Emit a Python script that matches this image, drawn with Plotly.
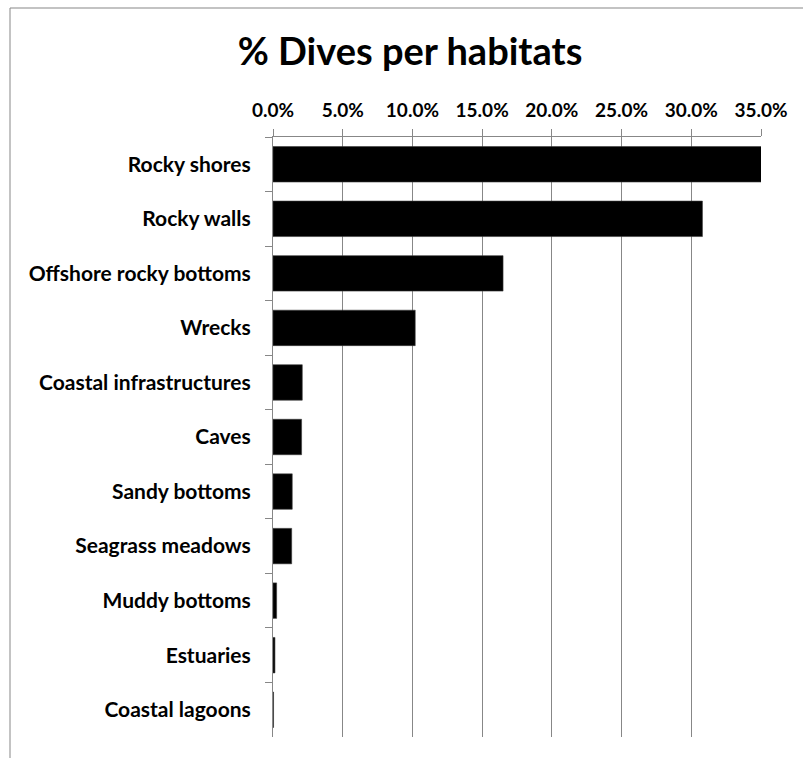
import plotly.graph_objects as go

# Share of dives recorded in each habitat type (fraction of all dives)
habitats = [
    "Rocky shores",
    "Rocky walls",
    "Offshore rocky bottoms",
    "Wrecks",
    "Coastal infrastructures",
    "Caves",
    "Sandy bottoms",
    "Seagrass meadows",
    "Muddy bottoms",
    "Estuaries",
    "Coastal lagoons",
]
dive_share = [0.351, 0.308, 0.165, 0.102, 0.021, 0.0205, 0.0138, 0.0134, 0.0026, 0.0014, 0.0004]

tick_values = [0.0, 0.05, 0.10, 0.15, 0.20, 0.25, 0.30, 0.35]
tick_labels = ["0.0%", "5.0%", "10.0%", "15.0%", "20.0%", "25.0%", "30.0%", "35.0%"]

FONT = "Lato"
GRID = "#878787"

fig = go.Figure(
    go.Bar(
        x=dive_share,
        y=habitats,
        orientation="h",
        marker=dict(color="#000000", line=dict(color="#3a3a3a", width=0.6)),
        hoverinfo="x+y",
    )
)

W, H = 803, 758
ML, MR, MT, MB = 273, 42, 137, 21
plot_w = W - ML - MR
plot_h = H - MT - MB

fig.update_layout(
    width=W,
    height=H,
    margin=dict(l=ML, r=MR, t=MT, b=MB, pad=0),
    paper_bgcolor="white",
    plot_bgcolor="white",
    bargap=0.35,
    showlegend=False,
    font=dict(family=FONT, color="#000000"),
    title=dict(
        text="<b>% Dives per habitats</b>",
        font=dict(family=FONT, size=38, color="#000000"),
        x=410 / W,
        xanchor="center",
        y=1 - 52 / H,
        yanchor="middle",
        xref="container",
        yref="container",
    ),
    xaxis=dict(
        side="top",
        range=[0, 0.35],
        tickvals=tick_values,
        ticktext=[f"<b>{t}</b>" for t in tick_labels],
        tickfont=dict(family=FONT, size=19, color="#000000"),
        ticklabelstandoff=4,
        showgrid=True,
        gridcolor=GRID,
        gridwidth=1,
        showline=True,
        linecolor=GRID,
        linewidth=1,
        ticks="outside",
        ticklen=7,
        tickcolor=GRID,
        zeroline=False,
        fixedrange=True,
    ),
    yaxis=dict(
        autorange="reversed",
        type="category",
        tickson="boundaries",
        ticks="outside",
        ticklen=7,
        tickcolor=GRID,
        showline=True,
        linecolor=GRID,
        linewidth=1,
        showgrid=False,
        tickfont=dict(family=FONT, size=21, color="#000000"),
        ticklabelstandoff=17,
        tickprefix="<b>",
        ticksuffix="</b>",
        fixedrange=True,
    ),
    shapes=[
        # chart frame (left and top edges fall inside the page)
        dict(
            type="rect",
            xref="paper",
            yref="paper",
            x0=(10 - ML) / plot_w,
            x1=(W + 5 - ML) / plot_w,
            y0=-(MB + 5) / plot_h,
            y1=(H - 8 - MB) / plot_h,
            line=dict(color=GRID, width=1),
            fillcolor="rgba(0,0,0,0)",
            layer="below",
        )
    ],
)

fig.write_html("out.html")
